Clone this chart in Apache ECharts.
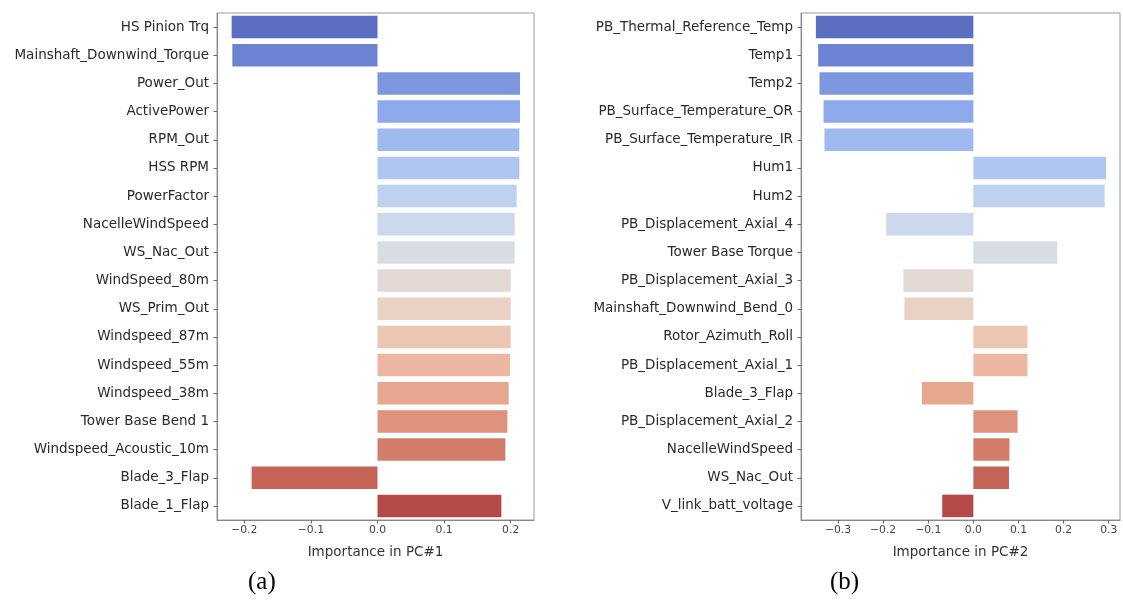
<!DOCTYPE html>
<html>
<head>
<meta charset="utf-8">
<script src="https://cdn.jsdelivr.net/npm/echarts@6/dist/echarts.min.js"></script>
<style>
html,body{margin:0;padding:0;background:#fff;}
#chart{width:1123px;height:601px;}
</style>
</head>
<body>
<div id="chart"></div>
<script>
// ---- Data (a): PC#1 ----
const catsA = ["HS Pinion Trq","Mainshaft_Downwind_Torque","Power_Out","ActivePower","RPM_Out","HSS RPM","PowerFactor","NacelleWindSpeed","WS_Nac_Out","WindSpeed_80m","WS_Prim_Out","Windspeed_87m","Windspeed_55m","Windspeed_38m","Tower Base Bend 1","Windspeed_Acoustic_10m","Blade_3_Flap","Blade_1_Flap"];
const valsA = [-0.219,-0.218,0.214,0.214,0.213,0.213,0.209,0.206,0.206,0.200,0.200,0.200,0.199,0.197,0.195,0.192,-0.189,0.186];
const ticksA = [-0.2,-0.1,0.0,0.1,0.2];

// ---- Data (b): PC#2 ----
const catsB = ["PB_Thermal_Reference_Temp","Temp1","Temp2","PB_Surface_Temperature_OR","PB_Surface_Temperature_IR","Hum1","Hum2","PB_Displacement_Axial_4","Tower Base Torque","PB_Displacement_Axial_3","Mainshaft_Downwind_Bend_0","Rotor_Azimuth_Roll","PB_Displacement_Axial_1","Blade_3_Flap","PB_Displacement_Axial_2","NacelleWindSpeed","WS_Nac_Out","V_link_batt_voltage"];
const valsB = [-0.349,-0.344,-0.341,-0.332,-0.330,0.294,0.291,-0.193,0.186,-0.155,-0.153,0.120,0.120,-0.114,0.098,0.080,0.079,-0.069];
const ticksB = [-0.3,-0.2,-0.1,0.0,0.1,0.2,0.3];

// ---- coolwarm colormap (Moreland 33-point table), seaborn-style sampling + desaturation ----
const CW = [[59,76,192],[68,90,204],[77,104,215],[87,117,225],[98,130,234],[108,142,241],[119,154,247],[130,165,251],[141,176,254],[152,185,255],[163,194,255],[174,201,253],[184,208,249],[194,213,244],[204,217,238],[213,219,230],[221,221,221],[229,216,209],[236,211,197],[241,204,184],[245,196,172],[247,187,159],[247,177,147],[247,166,134],[244,154,123],[241,141,111],[236,127,99],[229,112,89],[222,96,77],[213,80,67],[203,62,56],[192,40,47],[180,4,38]];
function cw(t){
  const p = t*(CW.length-1), i = Math.min(Math.floor(p), CW.length-2), f = p-i;
  return CW[i].map((c,k)=>c+(CW[i+1][k]-c)*f);
}
function desat(rgb, s){
  let [r,g,b] = rgb.map(v=>v/255);
  const mx=Math.max(r,g,b), mn=Math.min(r,g,b), l=(mx+mn)/2;
  let h=0, sat=0;
  if(mx!==mn){
    const d=mx-mn;
    sat = l>0.5 ? d/(2-mx-mn) : d/(mx+mn);
    if(mx===r) h=((g-b)/d+(g<b?6:0));
    else if(mx===g) h=(b-r)/d+2;
    else h=(r-g)/d+4;
    h/=6;
  }
  sat*=s;
  const q = l<0.5 ? l*(1+sat) : l+sat-l*sat, p2 = 2*l-q;
  function hue(t){ if(t<0)t+=1; if(t>1)t-=1; if(t<1/6)return p2+(q-p2)*6*t; if(t<1/2)return q; if(t<2/3)return p2+(q-p2)*(2/3-t)*6; return p2; }
  const out = sat===0 ? [l,l,l] : [hue(h+1/3),hue(h),hue(h-1/3)];
  return 'rgb('+out.map(v=>Math.round(v*255)).join(',')+')';
}
function palette(n){
  const arr=[];
  for(let i=0;i<n;i++) arr.push(desat(cw((i+1)/(n+1)),0.75));
  return arr;
}
const colorsA = palette(catsA.length);
const colorsB = palette(catsB.length);

const fmt = v => v.toFixed(1).replace('-', '\u2212');
const FONT = 'DejaVu Sans';

function xAxisCfg(gi, mn, mx, ticks, name){
  return {
    type:'value', gridIndex:gi, min:mn, max:mx,
    name:name, nameLocation:'middle', nameGap:25,
    nameTextStyle:{fontFamily:FONT,fontSize:13.5,color:'#333'},
    axisLine:{show:true,onZero:false,lineStyle:{color:'#888',width:1}},
    axisTick:{show:true,length:3.5,customValues:ticks,lineStyle:{color:'#666'}},
    axisLabel:{fontFamily:FONT,fontSize:10.8,color:'#444',margin:5,customValues:ticks,formatter:fmt},
    splitLine:{show:false}
  };
}
function yAxisCfg(gi, cats){
  return {
    type:'category', gridIndex:gi, data:cats, inverse:true, position:'left',
    axisLine:{show:true,onZero:false,lineStyle:{color:'#888',width:1}},
    axisTick:{show:true,length:3.5,alignWithLabel:true,lineStyle:{color:'#666'}},
    axisLabel:{fontFamily:FONT,fontSize:13.5,color:'#2a2a2a',margin:8},
    splitLine:{show:false}
  };
}

const chart = echarts.init(document.getElementById('chart'), null, {renderer:'canvas'});
chart.setOption({
  backgroundColor:'#fff',
  animation:false,
  grid:[
    {left:217, top:13, width:317, height:507, show:true, borderColor:'#999', borderWidth:1, backgroundColor:'transparent'},
    {left:801, top:13, width:319, height:507, show:true, borderColor:'#999', borderWidth:1, backgroundColor:'transparent'}
  ],
  xAxis:[
    xAxisCfg(0, -0.241, 0.235, ticksA, 'Importance in PC#1'),
    xAxisCfg(1, -0.382, 0.325, ticksB, 'Importance in PC#2')
  ],
  yAxis:[ yAxisCfg(0, catsA), yAxisCfg(1, catsB) ],
  series:[
    {type:'bar', xAxisIndex:0, yAxisIndex:0, barCategoryGap:'20%',
     data: valsA.map((v,i)=>({value:v,itemStyle:{color:colorsA[i]}}))},
    {type:'bar', xAxisIndex:1, yAxisIndex:1, barCategoryGap:'20%',
     data: valsB.map((v,i)=>({value:v,itemStyle:{color:colorsB[i]}}))}
  ],
  graphic:[
    {type:'text', left:248, top:570, style:{text:'(a)', fontFamily:'Liberation Serif', fontSize:25, fill:'#000'}},
    {type:'text', left:830, top:570, style:{text:'(b)', fontFamily:'Liberation Serif', fontSize:25, fill:'#000'}}
  ]
});
</script>
</body>
</html>
